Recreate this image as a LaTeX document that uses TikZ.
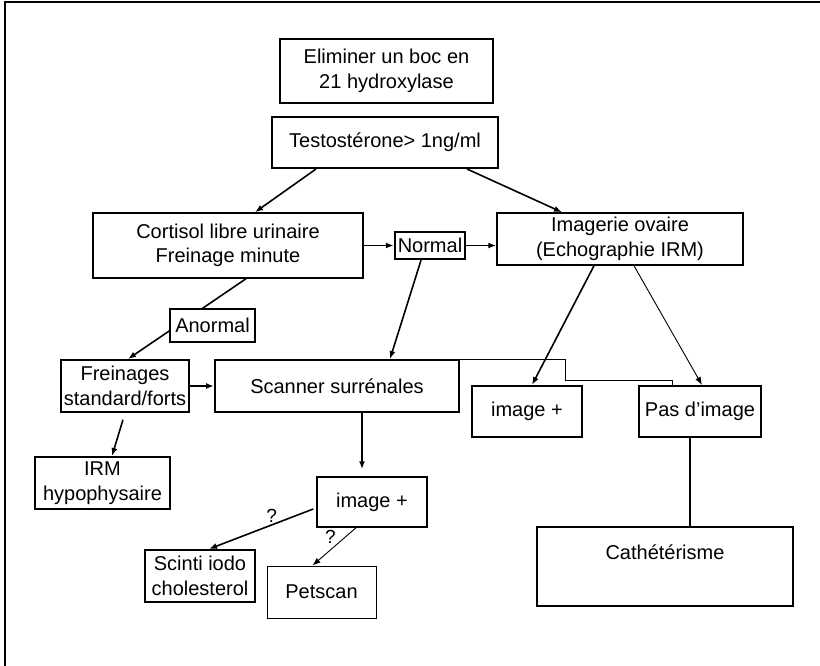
\documentclass[tikz,border=0pt]{standalone}
\usepackage{fontspec}
\setmainfont{Liberation Sans}
\usetikzlibrary{arrows.meta}
\begin{document}
\begin{tikzpicture}[x=1pt, y=-1pt, line width=1.5pt,
  box/.style={draw, align=center, inner sep=0pt, font=\fontsize{20}{24.5}\selectfont},
  arr/.style={-{Latex[length=8pt, width=6pt]}, line width=1.6pt},
  thinarr/.style={-{Latex[length=8pt, width=6pt]}, line width=0.9pt},
  qmark/.style={inner sep=1pt, font=\fontsize{19}{20}\selectfont}]
  \useasboundingbox (0,0) rectangle (820,666);
  \draw[line width=2pt] (5,670) -- (5,2) -- (825,2);
  \node[box, line width=2pt, minimum width=213, minimum height=64] (elim) at (386.5,71) {Eliminer un boc en\\21 hydroxylase};
  \node[box, line width=2pt, minimum width=226, minimum height=51] (testo) at (385,142.5) {Testostérone> 1ng/ml};
  \node[box, minimum width=270, minimum height=65] (cortisol) at (228,245.5) {Cortisol libre urinaire\\Freinage minute};
  \node[box, line width=2.5pt, minimum width=70, minimum height=27] (normal) at (430,245.5) {Normal};
  \node[box, minimum width=246, minimum height=52] (imagerie) at (620,239) {Imagerie ovaire\\(Echographie IRM)};
  \node[box, line width=2pt, minimum width=128, minimum height=52] (freinages) at (125,386) {Freinages\\standard/forts};
  \node[box, line width=2pt, minimum width=244, minimum height=52] (scanner) at (337,386) {Scanner surrénales};
  \node[box, line width=2pt, minimum width=110, minimum height=51] (imgR) at (527,411.5) {image +};
  \node[box, line width=2pt, minimum width=122, minimum height=51] (pasimg) at (700,411.5) {Pas d'image};
  \node[box, line width=2pt, minimum width=135, minimum height=52] (irm) at (102.5,483) {IRM\\hypophysaire};
  \node[box, minimum width=110, minimum height=50] (imgM) at (372,502) {image +};
  \node[box, line width=2pt, minimum width=110, minimum height=52] (scinti) at (200,576) {Scinti iodo\\cholesterol};
  \node[box, line width=1pt, minimum width=109, minimum height=52] (petscan) at (321.5,592) {Petscan};
  \node[box, line width=2pt, minimum width=256, minimum height=79, text depth=29pt] (cath) at (665,566.5) {Cathétérisme};
  % connectors
  \draw[arr] ([xshift=-69]testo.south) -- ([xshift=27]cortisol.north);
  \draw[arr] ([xshift=82]testo.south) -- ([xshift=-58]imagerie.north);
  \draw[arr] (cortisol.east) -- (normal.west);
  \draw[arr] (normal.east) -- (normal.east -| imagerie.west);
  \draw[arr] ([xshift=18]cortisol.south) -- ([xshift=3]freinages.north);
  \draw[arr] ([xshift=-9]normal.south) -- ([xshift=53]scanner.north);
  \draw[arr] ([xshift=-26]imagerie.south) -- ([xshift=5]imgR.north);
  \draw[thinarr] ([xshift=14]imagerie.south) -- ([xshift=2]pasimg.north);
  \draw[arr] (freinages.east) -- (scanner.west);
  \coordinate (kink) at (565,380);
  \draw[line width=1pt] (scanner.north east) -| (kink) -| ([xshift=-28]pasimg.north);
  \draw[arr, shorten <=7pt] (freinages.south) -- ([xshift=9.5]irm.north);
  \draw[arr] ([xshift=25]scanner.south) -- ([xshift=25,yshift=7]scanner.south |- imgM.north);
  \draw[arr] ([xshift=-3,yshift=-7]imgM.west) -- node[qmark, pos=0.4, above=1pt] {?} ([xshift=9]scinti.north);
  \draw[thinarr] ([xshift=-16]imgM.south) -- node[qmark, pos=0.25, left=8pt] {?} ([xshift=-9]petscan.north);
  \draw[line width=1.6pt] ([xshift=-10]pasimg.south) -- ([xshift=25]cath.north);
  \node[box, fill=white, minimum width=85, minimum height=33] (anormal) at (212.5,325.5) {Anormal};
\end{tikzpicture}
\end{document}
